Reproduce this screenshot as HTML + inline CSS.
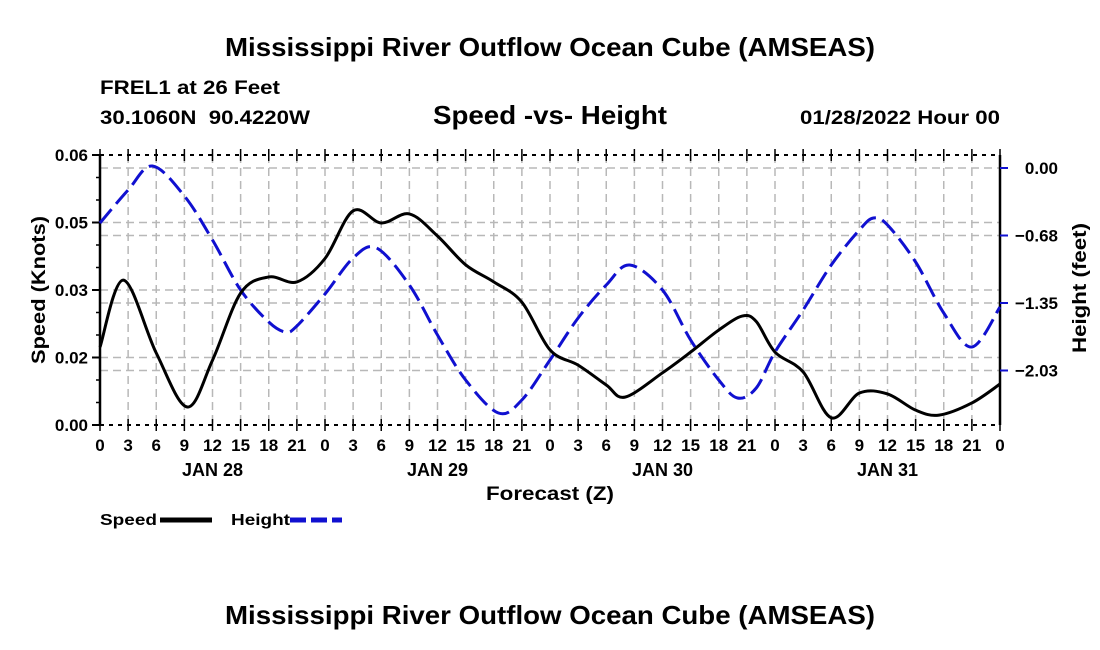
<!DOCTYPE html>
<html><head><meta charset="utf-8"><style>
body{margin:0;background:#fff;}
svg{display:block;font-family:"Liberation Sans",Arial,sans-serif;font-weight:bold;}
</style></head><body>
<svg id="chart" width="1100" height="650" viewBox="0 0 1100 650">
<text x="550" y="56" font-size="26" text-anchor="middle" textLength="650" lengthAdjust="spacingAndGlyphs">Mississippi River Outflow Ocean Cube (AMSEAS)</text>
<text x="100" y="94" font-size="19" textLength="180" lengthAdjust="spacingAndGlyphs">FREL1 at 26 Feet</text>
<text x="100" y="124" font-size="19" textLength="210" lengthAdjust="spacingAndGlyphs">30.1060N&#160;&#160;90.4220W</text>
<text x="550" y="124" font-size="26" text-anchor="middle" textLength="234" lengthAdjust="spacingAndGlyphs">Speed -vs- Height</text>
<text x="1000" y="124" font-size="19" text-anchor="end" textLength="200" lengthAdjust="spacingAndGlyphs">01/28/2022 Hour 00</text>
<g id="grid"></g>
<g id="axes"></g>
<g id="series"></g>
<text x="550" y="500" font-size="19" text-anchor="middle" textLength="128" lengthAdjust="spacingAndGlyphs">Forecast (Z)</text>
<text transform="translate(45,290) rotate(-90)" font-size="19" text-anchor="middle" textLength="148" lengthAdjust="spacingAndGlyphs">Speed (Knots)</text>
<text transform="translate(1086,288) rotate(-90)" font-size="19" text-anchor="middle" textLength="130" lengthAdjust="spacingAndGlyphs">Height (feet)</text>
<g>
<text x="100" y="525" font-size="16" textLength="57" lengthAdjust="spacingAndGlyphs">Speed</text>
<line x1="160" y1="520" x2="212" y2="520" stroke="#000" stroke-width="5"/>
<text x="231" y="525" font-size="16" textLength="59" lengthAdjust="spacingAndGlyphs">Height</text>
<line x1="290" y1="520" x2="342" y2="520" stroke="#1010d0" stroke-width="5" stroke-dasharray="16,5"/>
</g>
<text x="550" y="624" font-size="26" text-anchor="middle" textLength="650" lengthAdjust="spacingAndGlyphs">Mississippi River Outflow Ocean Cube (AMSEAS)</text>
</svg>
<script>
const speedHours=[0,2.5,6,9.3,12,15,18,21,24,27,30,33,36,39,42,45,48,51,54,56,60,63,66,68.5,70,72,75,78,81,84,87,89.5,93,96];
const speedValues=[0.0173,0.0322,0.016,0.004,0.0144,0.0293,0.0329,0.0318,0.037,0.0476,0.0449,0.0469,0.042,0.0356,0.0318,0.0273,0.0167,0.0133,0.0089,0.0062,0.0116,0.0162,0.0211,0.0242,0.023,0.0162,0.0118,0.0016,0.0071,0.0069,0.0033,0.0022,0.0049,0.0091];
const heightHours=[0,3,5.6,9,12,15,18,19.8,21,24,27,29.5,33,36,39,42.5,45,48,51,54,56.5,60,63,66,68,70,72,75,78,81,82.5,84,87,90,93,96];
const heightValues=[-0.55,-0.22,0.02,-0.28,-0.72,-1.22,-1.54,-1.64,-1.58,-1.26,-0.9,-0.8,-1.17,-1.67,-2.12,-2.45,-2.32,-1.92,-1.5,-1.17,-0.97,-1.22,-1.72,-2.12,-2.3,-2.2,-1.84,-1.42,-0.97,-0.62,-0.5,-0.57,-0.94,-1.45,-1.79,-1.39];
const hourLabels=["0","3","6","9","12","15","18","21"];
const dayLabels=["JAN 28","JAN 29","JAN 30","JAN 31"];
const speedTicks=[0,0.015,0.03,0.045,0.06];
const speedTickLabels=["0.00","0.02","0.03","0.05","0.06"];
const heightTicks=[0,-0.675,-1.35,-2.025];
const heightTickLabels=["0.00","\u22120.68","\u22121.35","\u22122.03"];
const L=100,R=1000,T=155,B=425;
const xS=h=>L+h*(R-L)/96;
const yS=v=>B-v*(B-T)/0.06;
const yH=v=>168-v*100;
const NS="http://www.w3.org/2000/svg";
function mk(tag,attrs,parent){const e=document.createElementNS(NS,tag);for(const k in attrs)e.setAttribute(k,attrs[k]);parent.appendChild(e);return e;}
const grid=document.getElementById('grid'),axes=document.getElementById('axes'),series=document.getElementById('series');
for(let h=3;h<96;h+=3){const l=mk('line',{x1:xS(h),x2:xS(h),y1:T,y2:B,stroke:'#b8b8b8','stroke-width':1.5,'stroke-dasharray':'8,5'},grid);

}
speedTicks.slice(1,4).forEach(v=>{const l=mk('line',{x1:L,x2:R,y1:yS(v),y2:yS(v),stroke:'#b8b8b8','stroke-width':1.5,'stroke-dasharray':'8,5'},grid);

});
heightTicks.forEach(v=>{const l=mk('line',{x1:L,x2:R,y1:yH(v),y2:yH(v),stroke:'#b8b8b8','stroke-width':1.5,'stroke-dasharray':'8,5'},grid);

});
mk('line',{x1:L,x2:L,y1:T,y2:B,stroke:'#000','stroke-width':2.5},axes);
mk('line',{x1:R,x2:R,y1:T,y2:B,stroke:'#000','stroke-width':2.5},axes);
mk('line',{x1:L,x2:R,y1:B,y2:B,stroke:'#000','stroke-width':2,'stroke-dasharray':'4,5'},axes);
mk('line',{x1:L,x2:R,y1:T,y2:T,stroke:'#000','stroke-width':2,'stroke-dasharray':'4,5'},axes);
for(let h=0;h<=96;h+=3){
mk('line',{x1:xS(h),x2:xS(h),y1:B-6,y2:B+6,stroke:'#000','stroke-width':1.5},axes);
mk('line',{x1:xS(h),x2:xS(h),y1:T-6,y2:T+6,stroke:'#000','stroke-width':1.5},axes);
const t=mk('text',{x:xS(h),y:B+26,'font-size':17,'text-anchor':'middle'},axes);
t.textContent=h===96?"0":hourLabels[(h/3)%8];

}
dayLabels.forEach((d,i)=>{const t=mk('text',{x:xS(12+24*i),y:B+51,'font-size':18,'text-anchor':'middle'},axes);t.textContent=d;

});
for(let k=0;k<=12;k++){const v=k*0.005;mk('line',{x1:L-(k%3===0?6:4),x2:L,y1:yS(v),y2:yS(v),stroke:'#000','stroke-width':1.5},axes);}
speedTicks.forEach((v,i)=>{mk('line',{x1:L-8,x2:L,y1:yS(v),y2:yS(v),stroke:'#000','stroke-width':2},axes);
const t=mk('text',{x:L-12,y:yS(v)+6,'font-size':17,'text-anchor':'end'},axes);t.textContent=speedTickLabels[i];

});
heightTicks.forEach((v,i)=>{mk('line',{x1:R,x2:R+8,y1:yH(v),y2:yH(v),stroke:'#1010d0','stroke-width':2},axes);
const t=mk('text',{x:R+58,y:yH(v)+6,'font-size':17,'text-anchor':'end'},axes);t.textContent=heightTickLabels[i];

});
function smooth(pts){let d=`M${pts[0][0]},${pts[0][1]}`;for(let i=0;i<pts.length-1;i++){const p0=pts[i-1]||pts[i],p1=pts[i],p2=pts[i+1],p3=pts[i+2]||p2;
d+=` C${p1[0]+(p2[0]-p0[0])/6},${p1[1]+(p2[1]-p0[1])/6} ${p2[0]-(p3[0]-p1[0])/6},${p2[1]-(p3[1]-p1[1])/6} ${p2[0]},${p2[1]}`;}return d;}
const hp=mk('path',{d:smooth(heightHours.map((h,i)=>[xS(h),yH(heightValues[i])])),fill:'none',stroke:'#1010d0','stroke-width':3,'stroke-dasharray':'18,7'},series);


const sp=mk('path',{d:smooth(speedHours.map((h,i)=>[xS(h),yS(speedValues[i])])),fill:'none',stroke:'#000','stroke-width':3},series);


</script>
</body></html>
